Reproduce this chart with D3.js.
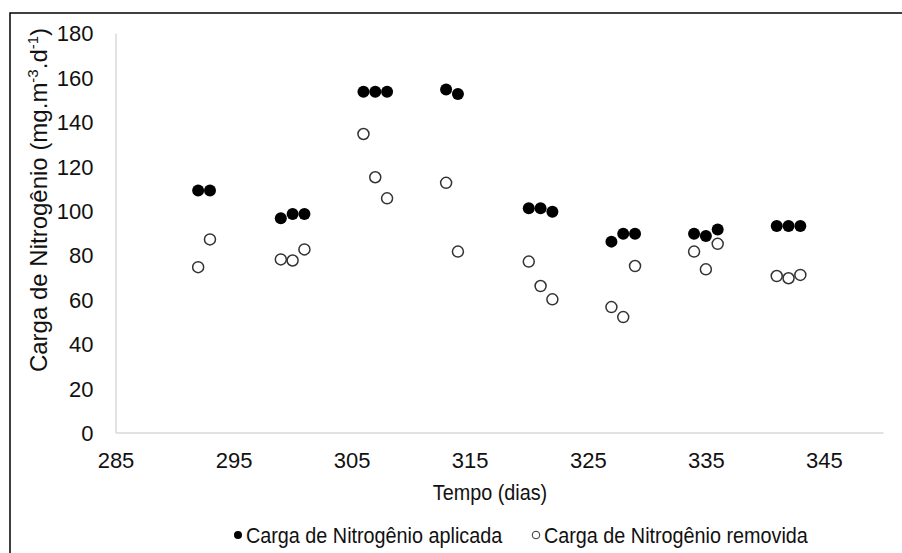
<!DOCTYPE html>
<html><head><meta charset="utf-8">
<script src="https://cdn.jsdelivr.net/npm/d3@7"></script>
<style>html,body{margin:0;padding:0;background:#fff;}svg{display:block;}</style>
</head><body>
<svg id="c" width="902" height="553"></svg>
<script>
const days = [292,293,299,300,301,306,307,308,313,314,320,321,322,327,328,329,334,335,336,341,342,343];
const aplicada = [109,109,96.5,98.5,98.5,153.5,153.5,153.5,154.5,152.5,101,101,99.5,86,89.5,89.5,89.5,88.5,91.5,93,93,93];
const removida = [74.5,87,78,77.5,82.5,134.5,115,105.5,112.5,81.5,77,66,60,56.5,52,75,81.5,73.5,85,70.5,69.5,71];
const xTicks = [285,295,305,315,325,335,345];
const yTicks = [0,20,40,60,80,100,120,140,160,180];
const seriesNames = ["Carga de Nitrogênio aplicada","Carga de Nitrogênio removida"];

const svg = d3.select("#c");
const font = "'Liberation Sans', Arial, sans-serif";
const L = 115.5, R = 883, T = 33, B = 432.5;
const x = d3.scaleLinear().domain([285,350]).range([L,R]);
const y = d3.scaleLinear().domain([0,180]).range([B,T]);
const SX = 0.9;

// outer frame
svg.append("rect").attr("x",10).attr("y",13).attr("width",900).attr("height",600)
  .attr("fill","none").attr("stroke","#000").attr("stroke-width",1.5);

// axes
const xa = svg.append("g").attr("transform",`translate(0,${B})`)
  .call(d3.axisBottom(x).tickValues(xTicks).tickSize(0).tickPadding(20).tickFormat(d3.format("d")));
const ya = svg.append("g").attr("transform",`translate(${L},0)`)
  .call(d3.axisLeft(y).tickValues(yTicks).tickSize(0).tickPadding(22).tickFormat(d3.format("d")));
[xa,ya].forEach(g=>{
  g.select(".domain").attr("stroke","#d9d9d9").attr("stroke-width",1.5);
  g.selectAll("text").attr("font-family",font).attr("font-size",22).attr("fill","#111");
});
xa.selectAll("text").attr("dy","0.71em");
ya.selectAll("text").attr("dy","0.36em");

// axis titles
svg.append("g").attr("transform",`translate(490,500) scale(${SX},1)`).append("text")
  .attr("text-anchor","middle").attr("font-family",font).attr("font-size",22).attr("fill","#111").text("Tempo (dias)");
const yt = svg.append("text").attr("transform","translate(47,200) rotate(-90)")
  .attr("text-anchor","middle").attr("font-family",font).attr("font-size",24).attr("fill","#111");
yt.append("tspan").text("Carga de Nitrogênio (mg.m");
yt.append("tspan").attr("font-size",15).attr("dy",-9).text("-3");
yt.append("tspan").attr("dy",9).text(".d");
yt.append("tspan").attr("font-size",15).attr("dy",-9).text("-1");
yt.append("tspan").attr("dy",9).text(")");

// points
const pts = days.map((d,i)=>({d,a:aplicada[i],r:removida[i]}));
svg.append("g").selectAll("circle").data(pts).join("circle")
  .attr("cx",p=>x(p.d)).attr("cy",p=>y(p.r)).attr("r",5.5)
  .attr("fill","#fff").attr("stroke","#333").attr("stroke-width",1.5);
svg.append("g").selectAll("circle").data(pts).join("circle")
  .attr("cx",p=>x(p.d)).attr("cy",p=>y(p.a)).attr("r",6)
  .attr("fill","#000");

// legend
const lg = svg.append("g");
const ly = 535;
lg.append("circle").attr("cx",238).attr("cy",ly).attr("r",4).attr("fill","#000");
lg.append("g").attr("transform",`translate(246,${ly}) scale(${SX},1)`).append("text")
  .attr("dy","0.36em").attr("font-family",font).attr("font-size",22).attr("fill","#111").text(seriesNames[0]);
lg.append("circle").attr("cx",536).attr("cy",ly).attr("r",3.8).attr("fill","#fff").attr("stroke","#333").attr("stroke-width",1);
lg.append("g").attr("transform",`translate(544,${ly}) scale(${SX},1)`).append("text")
  .attr("dy","0.36em").attr("font-family",font).attr("font-size",22).attr("fill","#111").text(seriesNames[1]);
</script>
</body></html>
